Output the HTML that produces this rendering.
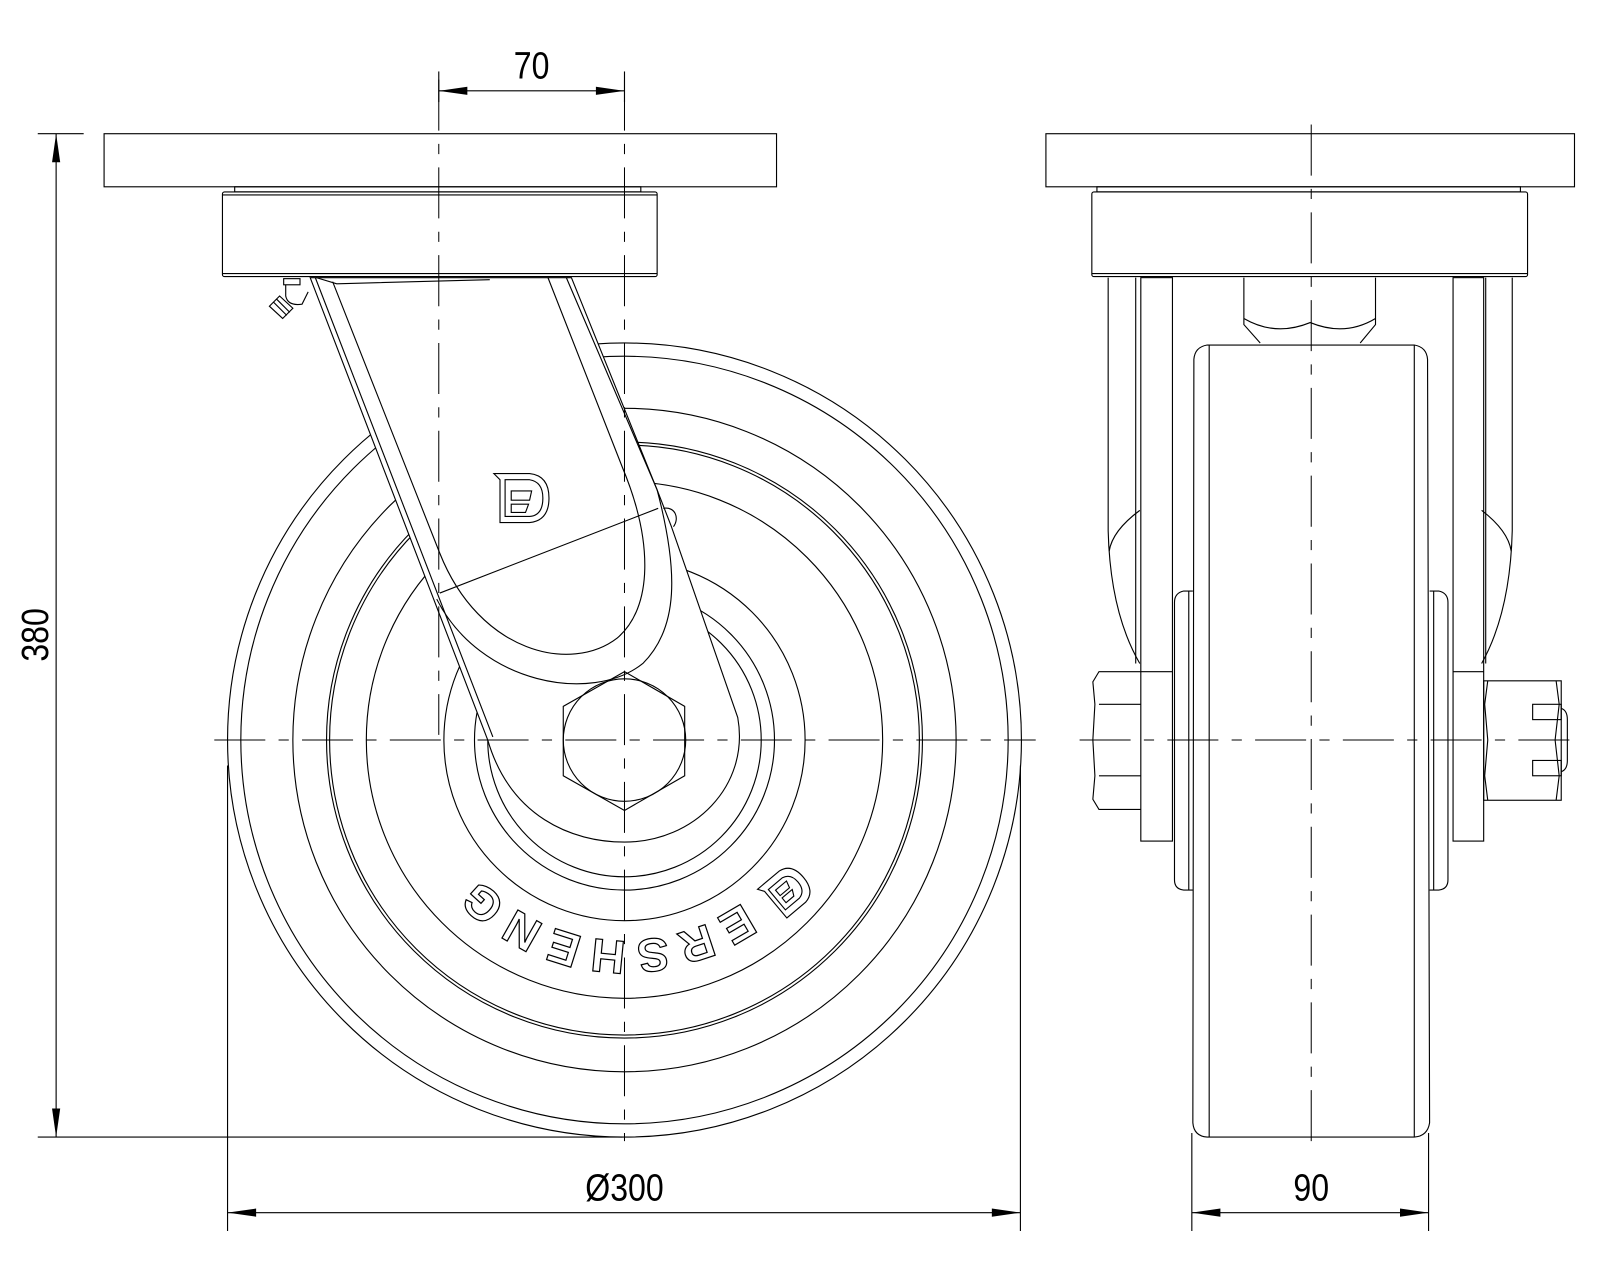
<!DOCTYPE html>
<html><head><meta charset="utf-8"><style>
html,body{margin:0;padding:0;background:#fff;}
svg{display:block;}
text{font-family:"Liberation Sans",sans-serif;}
</style></head><body>
<svg width="1600" height="1280" viewBox="0 0 1568 1254" preserveAspectRatio="none" xmlns="http://www.w3.org/2000/svg">
<defs>
<path id="arcT" d="M 782 823 A 196 196 0 0 1 442 823"/>
</defs>
<g fill="none" stroke="#000" stroke-width="1.1">
<circle cx="612" cy="725" r="389"/>
<circle cx="612" cy="725" r="376"/>
<circle cx="612" cy="725" r="325"/>
<circle cx="612" cy="725" r="292"/>
<circle cx="612" cy="725" r="289"/>
<circle cx="612" cy="725" r="253"/>
<circle cx="612" cy="725" r="177"/>
<circle cx="612" cy="725" r="147"/>
<circle cx="612" cy="725" r="134"/>
<rect x="102" y="131" width="659" height="52" fill="#fff"/>
<rect x="230" y="183" width="398" height="5"/>
<rect x="218" y="188" width="426" height="83" fill="#fff" rx="2"/>
<line x1="218" y1="191" x2="644" y2="191"/>
<line x1="218" y1="268" x2="644" y2="268"/>
<path d="M304,272 L478,725 C500,800 560,825 612,825 C680,825 735,770 723,703 L658,516 L644,480 L560,272 Z" fill="#fff"/>
<line x1="309" y1="272" x2="483" y2="722"/>
<path d="M326,276 L431,542 C470,640 560,660 605,625 C640,595 640,530 610,458 L537,272"/>
<path d="M428,587 C470,670 580,690 630,650 C665,615 665,560 644,480 L555,272"/>
<line x1="431" y1="581" x2="645" y2="498"/>
<path d="M650,498 C662,496 666,508 660,516"/>
<path d="M310,272 L330,278 L480,274"/>
<rect x="278" y="273" width="16" height="6"/>
<path d="M280,279 L280,290 Q282,300 296,298 L302,286"/>
<path d="M264,300 L274,290 L287,302 L277,312 Z"/>
<line x1="268" y1="296" x2="281" y2="309"/>
<line x1="271" y1="293" x2="284" y2="306"/>
<path d="M484,464 L519,464 Q538,466 538,488 Q538,510 519,512 L490,512 L490,470 Z"/>
<path d="M495,470 L519,470 Q532,472 532,488 Q532,505 519,506 L495,506 Z"/>
<path d="M501,481 L521,481 L519,490 L501,490 Z"/>
<path d="M501,494 L518,494 L515,502 L501,502 Z"/>
<polygon points="612,658 671,692 671,760 612,794 552,760 552,692"/>
<circle cx="612" cy="725" r="60"/>
<g transform="translate(769,875) rotate(-40)">
<path d="M-18,-20 L10,-20 Q24,-18 24,0 Q24,18 10,20 L-14,20 L-14,-14 Z"/>
<path d="M-10,-13 L8,-13 Q17,-11 17,0 Q17,11 8,13 L-10,13 Z"/>
<path d="M-5,-8 L9,-8 L7,-1 L-5,-1 Z M-5,2 L8,2 L5,8 L-5,8 Z"/>
</g>
</g>
<text font-size="46" font-weight="bold" fill="#fff" stroke="#000" stroke-width="1.2" letter-spacing="9"><textPath href="#arcT" startOffset="82">ERSHENG</textPath></text>
<g fill="none" stroke="#000" stroke-width="1.1">
<rect x="1025" y="131" width="518" height="52"/>
<rect x="1075" y="183" width="415" height="5"/>
<rect x="1070" y="188" width="427" height="83" rx="2"/>
<line x1="1070" y1="268" x2="1497" y2="268"/>
<path d="M1219,272 L1219,318 L1235,336 M1348,272 L1348,318 L1333,336"/>
<path d="M1219,312 Q1250,330 1284,316 Q1318,330 1348,312"/>
<path d="M1086,272 L1086,520 Q1088,600 1117,650"/>
<path d="M1117,500 Q1090,520 1087,540"/>
<line x1="1113" y1="272" x2="1113" y2="650"/>
<rect x="1118" y="272" width="31" height="552"/>
<path d="M1482,272 L1482,520 Q1480,600 1452,650"/>
<path d="M1452,500 Q1478,520 1481,540"/>
<line x1="1456" y1="272" x2="1456" y2="650"/>
<rect x="1424" y="272" width="30" height="552"/>
<line x1="1118" y1="658" x2="1149" y2="658"/>
<line x1="1424" y1="658" x2="1454" y2="658"/>
<path d="M1183,338 L1386,338 Q1398,340 1399,352 L1401,1100 Q1399,1113 1386,1114 L1183,1114 Q1170,1113 1169,1100 L1170,352 Q1171,340 1183,338 Z" fill="#fff"/>
<line x1="1185" y1="338" x2="1185" y2="1114"/>
<line x1="1386" y1="338" x2="1386" y2="1114"/>
<path d="M1169,579 L1160,579 Q1151,581 1151,590 L1151,862 Q1151,871 1160,872 L1169,872"/>
<line x1="1165" y1="579" x2="1165" y2="872"/>
<path d="M1401,579 L1410,579 Q1419,581 1419,590 L1419,862 Q1419,871 1410,872 L1401,872"/>
<line x1="1405" y1="579" x2="1405" y2="872"/>
<path d="M1118,658 L1077,658 L1071,668 L1073,690 L1071,725 L1073,760 L1071,783 L1077,793 L1118,793"/>
<line x1="1077" y1="690" x2="1118" y2="690"/>
<line x1="1077" y1="760" x2="1118" y2="760"/>
<rect x="1454" y="667" width="76" height="117"/>
<path d="M1458,667 L1455,690 L1458,725 L1455,760 L1458,784"/>
<path d="M1525,667 L1528,690 L1524,725 L1528,760 L1525,784"/>
<rect x="1502" y="690" width="28" height="15"/>
<rect x="1502" y="745" width="28" height="15"/>
<path d="M1530,694 Q1536,696 1536,705 L1536,745 Q1536,754 1530,756"/>
</g>
<g stroke="#000" stroke-width="1" stroke-dasharray="50 13 10 13" fill="none">
<line x1="210" y1="725" x2="1015" y2="725"/>
<line x1="1058" y1="725" x2="1545" y2="725"/>
<line x1="612" y1="78" x2="612" y2="1118"/>
<line x1="430" y1="78" x2="430" y2="720"/>
<line x1="1285" y1="122" x2="1285" y2="1122"/>
</g>
<g stroke="#000" stroke-width="1.1" fill="none">
<line x1="430" y1="70" x2="430" y2="100"/>
<line x1="612" y1="70" x2="612" y2="100"/>
<line x1="430" y1="89" x2="612" y2="89"/>
<line x1="37" y1="131" x2="82" y2="131"/>
<line x1="37" y1="1114" x2="610" y2="1114"/>
<line x1="55" y1="131" x2="55" y2="1114"/>
<line x1="223" y1="750" x2="223" y2="1206"/>
<line x1="1000" y1="750" x2="1000" y2="1206"/>
<line x1="223" y1="1188" x2="1000" y2="1188"/>
<line x1="1168" y1="1110" x2="1168" y2="1206"/>
<line x1="1400" y1="1110" x2="1400" y2="1206"/>
<line x1="1168" y1="1188" x2="1400" y2="1188"/>
</g>
<g fill="#000">
<polygon points="430,89 458,85 458,93"/>
<polygon points="612,89 584,85 584,93"/>
<polygon points="55,131 51,159 59,159"/>
<polygon points="55,1114 51,1086 59,1086"/>
<polygon points="223,1188 251,1184 251,1192"/>
<polygon points="1000,1188 972,1184 972,1192"/>
<polygon points="1168,1188 1196,1184 1196,1192"/>
<polygon points="1400,1188 1372,1184 1372,1192"/>
</g>
<g fill="#000" font-size="37">
<text x="521" y="77" text-anchor="middle" transform="translate(521,0) scale(0.85,1) translate(-521,0)">70</text>
<text x="612" y="1176" text-anchor="middle" transform="translate(612,0) scale(0.85,1) translate(-612,0)">Ø300</text>
<text x="1285" y="1176" text-anchor="middle" transform="translate(1285,0) scale(0.85,1) translate(-1285,0)">90</text>
<text x="0" y="0" text-anchor="middle" transform="translate(47,622) rotate(-90) scale(0.85,1)">380</text>
</g>
</svg>
</body></html>
